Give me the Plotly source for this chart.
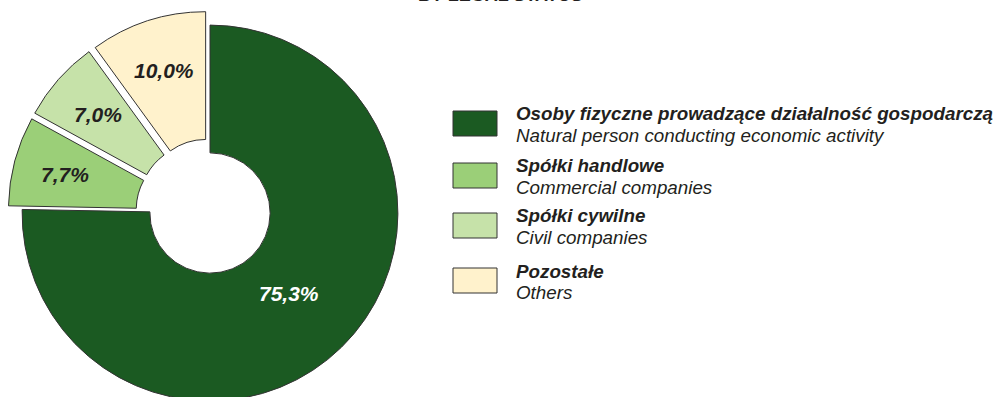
import math
import plotly.graph_objects as go

# Structure of entities by legal status (%)
labels_pl = ["Osoby fizyczne prowadzące działalność gospodarczą",
             "Spółki handlowe", "Spółki cywilne", "Pozostałe"]
labels_en = ["Natural person conducting economic activity",
             "Commercial companies", "Civil companies", "Others"]
shares = [75.3, 7.7, 7.0, 10.0]

# Styling
pulls = [0.0, 0.075, 0.075, 0.075]
colors = ["#1b5a22", "#9bcf78", "#c6e2a9", "#fff2cc"]
text_colors = ["#ffffff", "#231f20", "#231f20", "#231f20"]
label_ring_pos = [0.41, 0.59, 0.59, 0.59]   # where in the ring each value label sits
HOLE = 0.32

W, H = 999, 420
FONT = "Arial, Liberation Sans, sans-serif"
PIE_BOX = dict(x=(8, 412), y=(11, 415))     # pixel box of the pie domain


def px_x(x):
    return x / W


def px_y(y):
    return 1 - y / H


fig = go.Figure()
fig.add_trace(go.Pie(
    labels=labels_pl,
    values=shares,
    sort=False,
    direction="clockwise",
    rotation=0,
    hole=HOLE,
    pull=pulls,
    marker=dict(colors=colors, line=dict(color="#333333", width=1)),
    textinfo="none",
    domain=dict(x=[px_x(PIE_BOX["x"][0]), px_x(PIE_BOX["x"][1])],
                y=[px_y(PIE_BOX["y"][1]), px_y(PIE_BOX["y"][0])]),
    showlegend=False,
    hoverinfo="label+percent",
))

# Pie geometry, as plotly lays it out inside the domain box
cx = (PIE_BOX["x"][0] + PIE_BOX["x"][1]) / 2
cy = (PIE_BOX["y"][0] + PIE_BOX["y"][1]) / 2
R = (PIE_BOX["x"][1] - PIE_BOX["x"][0]) / 2 / (1 + max(pulls))

annotations = []
total = sum(shares)
cum = 0.0
for i, v in enumerate(shares):
    mid = 2 * math.pi * (cum + v / 2) / total   # clockwise from 12 o'clock
    cum += v
    r = HOLE * R + label_ring_pos[i] * (1 - HOLE) * R + pulls[i] * R
    annotations.append(dict(
        text="<b><i>" + f"{v:.1f}".replace(".", ",") + "%</i></b>",
        x=px_x(cx + r * math.sin(mid)), y=px_y(cy - r * math.cos(mid)),
        xref="paper", yref="paper", xanchor="center", yanchor="middle",
        showarrow=False, font=dict(family=FONT, size=21, color=text_colors[i]),
    ))

annotations.append(dict(
    text="<b>BY LEGAL STATUS</b>", x=px_x(500), y=px_y(7),
    xref="paper", yref="paper", xanchor="center", yanchor="bottom",
    showarrow=False, font=dict(family=FONT, size=18, color="#231f20"),
))
shapes = []

# Legend: swatch plus a bold Polish line and an italic English line
sw_tops = [111, 163, 213, 268]
for i, top in enumerate(sw_tops):
    shapes.append(dict(
        type="rect", xref="paper", yref="paper",
        x0=px_x(453), x1=px_x(497), y0=px_y(top + 25), y1=px_y(top),
        fillcolor=colors[i], line=dict(color="#333333", width=1),
    ))
    annotations.append(dict(
        text="<b><i>" + labels_pl[i] + "</i></b>", x=px_x(514), y=px_y(top + 3),
        xref="paper", yref="paper", xanchor="left", yanchor="middle",
        showarrow=False, font=dict(family=FONT, size=18.8, color="#231f20"),
    ))
    annotations.append(dict(
        text="<i>" + labels_en[i] + "</i>", x=px_x(514), y=px_y(top + 24),
        xref="paper", yref="paper", xanchor="left", yanchor="middle",
        showarrow=False, font=dict(family=FONT, size=18.8, color="#231f20"),
    ))

fig.update_layout(
    width=W, height=H,
    margin=dict(l=0, r=0, t=0, b=0),
    paper_bgcolor="#ffffff",
    plot_bgcolor="#ffffff",
    annotations=annotations,
    shapes=shapes,
)

fig.write_html("out.html", post_script="document.body.style.overflow='hidden';")
